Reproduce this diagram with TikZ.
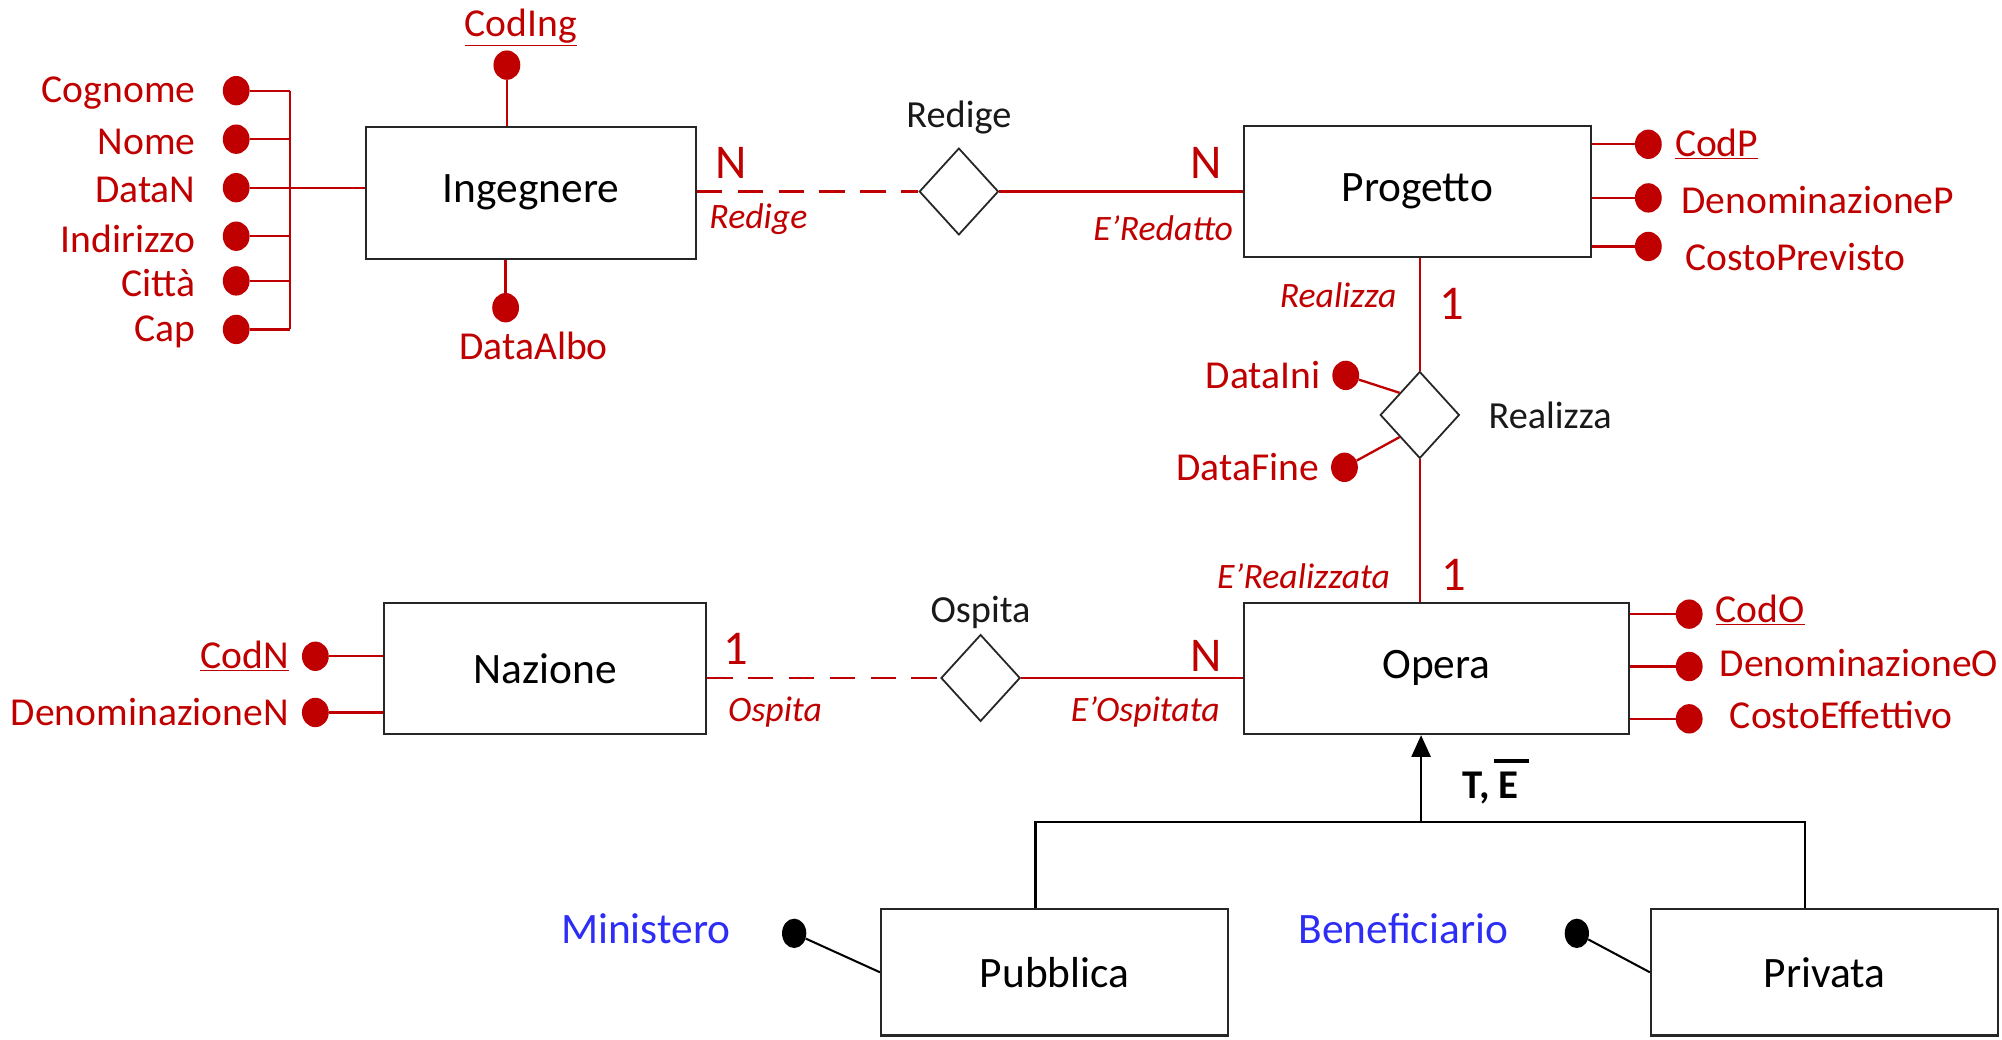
\documentclass[tikz,border=0pt]{standalone}
\usepackage{fontspec}
\setmainfont{Carlito}
\usepackage{tikz}
\usetikzlibrary{shapes.geometric,positioning,arrows.meta}
\definecolor{erred}{RGB}{192,0,0}
\definecolor{erblue}{RGB}{45,45,245}
\newcommand*\dotdiam{21pt}
\tikzset{
    entity/.style   = {draw=black!85, line width=1.6pt, minimum height=103pt,
                      inner sep=0pt, font=\fontsize{34}{40}\selectfont},
    relation/.style = {diamond, draw=black!85, line width=1.4pt,
                      minimum width=62pt, minimum height=68pt, inner sep=0pt},
    reltext/.style  = {font=\fontsize{30}{36}\selectfont, text=black!90, inner sep=2pt},
    attrdot/.style  = {ellipse, fill=erred, minimum width=\dotdiam,
                      minimum height=\dotdiam+2pt, inner sep=0pt},
    attrtext/.style = {font=\fontsize{31}{36}\selectfont, text=erred, inner sep=2pt},
    roletext/.style = {font=\itshape\fontsize{28}{32}\selectfont, text=erred, inner sep=0pt},
    cardtext/.style = {font=\fontsize{38}{44}\selectfont, text=erred, inner sep=0pt},
    attrline/.style = {draw=erred, line width=1.8pt},
    reldash/.style  = {attrline, dash pattern=on 20pt off 12pt},
    isaline/.style  = {draw=black, line width=1.6pt},
    iddot/.style    = {ellipse, fill=black, minimum width=19pt,
                      minimum height=23pt, inner sep=0pt},
    idtext/.style   = {font=\fontsize{34}{40}\selectfont, text=erblue, inner sep=2pt},
}

\begin{document}
\begin{tikzpicture}[x=1pt,y=-1pt]
    \useasboundingbox (0,0) rectangle (1568,814);

    % entities
    \node[entity, minimum width=258pt] (ing)   at (416,151)   {Ingegnere};
    \node[entity, minimum width=272pt] (prog)  at (1110,150)  {Progetto};
    \node[entity, minimum width=302pt] (opera) at (1125,523.5) {Opera};
    \node[entity, minimum width=252pt] (naz)   at (427,523.5) {Nazione};
    \node[entity, minimum width=272pt, minimum height=99pt] (pub)  at (826,761.5)  {Pubblica};
    \node[entity, minimum width=272pt, minimum height=99pt] (priv) at (1429,761.5) {Privata};

    % relationships
    \node[relation] (redige) at (751,150) {};
    \node[reltext, above=8pt of redige] {Redige};
    \node[relation] (real) at (1112,325) {};
    \node[reltext, right=20pt of real] {Realizza};
    \node[relation] (ospita) at (768,531) {};
    \node[reltext, above=2pt of ospita] {Ospita};

    % Ingegnere -- Redige -- Progetto
    \draw[reldash]  (redige.west -| ing.east) -- (redige.west);
    \draw[attrline] (redige.east) -- (redige.east -| prog.west);
    \node[cardtext] at (573,128) {N};
    \node[roletext] at (594,172) {Redige};
    \node[cardtext] at (945,128) {N};
    \node[roletext] at (911,179) {E’Redatto};

    % Progetto -- Realizza -- Opera
    \draw[attrline] (real.north) -- (real.north |- prog.south);
    \draw[attrline] (real.south) -- (real.south |- opera.north);
    \node[roletext] at (1048,231) {Realizza};
    \node[cardtext] at (1137,238) {1};
    \node[roletext] at (1021,451) {E’Realizzata};
    \node[cardtext] at (1139,450) {1};

    % Nazione -- Ospita -- Opera
    \draw[reldash]  (ospita.west -| naz.east) -- (ospita.west);
    \draw[attrline] (ospita.east) -- (ospita.east -| opera.west);
    \node[cardtext] at (576,508) {1};
    \node[roletext] at (607,558) {Ospita};
    \node[cardtext] at (945,514) {N};
    \node[roletext] at (897,558) {E’Ospitata};

    % attributes of Ingegnere
    \node[attrdot] (icod) at (397,51) {};
    \node[attrtext, above=1pt of icod, xshift=11pt] {\underline{CodIng}};
    \draw[attrline] (icod) -- (icod |- ing.north);
    \node[attrdot] (ialbo) at (396,241) {};
    \node[attrtext, below=5pt of ialbo, xshift=22pt] {DataAlbo};
    \draw[attrline] (ialbo) -- (ialbo |- ing.south);
    \coordinate (ibus) at (227,147);
    \foreach \t/\y [count=\i] in {Cognome/71, Nome/109, DataN/147,
                                  Indirizzo/185, Città/220, Cap/258} {
        \node[attrdot] (ia\i) at (185,\y) {};
        \node[attrtext, left=19pt of ia\i, yshift=-2pt] {\t};
        \draw[attrline] (ia\i) -- (ia\i -| ibus);
    }
    \draw[attrline] (ia1 -| ibus) -- (ia6 -| ibus);
    \draw[attrline] (ia3) -- (ia3 -| ing.west);

    % attributes of Progetto
    \foreach \t/\y/\s/\v [count=\i] in {\underline{CodP}/113/8pt/0pt,
                                        DenominazioneP/155/13pt/-2pt,
                                        CostoPrevisto/193/16pt/-8pt} {
        \node[attrdot] (pa\i) at (1291,\y) {};
        \node[attrtext, right=\s of pa\i, yshift=\v] {\t};
        \draw[attrline] (pa\i) -- (pa\i -| prog.east);
    }

    % attributes of Realizza
    \node[attrdot] (rini) at (1054,294) {};
    \node[attrtext, left=7pt of rini] {DataIni};
    \draw[attrline] (rini) -- (real.north west);
    \node[attrdot] (rfine) at (1053,366) {};
    \node[attrtext, left=7pt of rfine] {DataFine};
    \draw[attrline] (rfine) -- (real.south west);

    % attributes of Opera
    \foreach \t/\y/\s [count=\i] in {\underline{CodO}/481/8pt,
                                     DenominazioneO/522/11pt,
                                     CostoEffettivo/563/19pt} {
        \node[attrdot] (oa\i) at (1323,\y) {};
        \node[attrtext, right=\s of oa\i, yshift=3pt] {\t};
        \draw[attrline] (oa\i) -- (oa\i -| opera.east);
    }

    % attributes of Nazione
    \foreach \t/\y [count=\i] in {\underline{CodN}/514, DenominazioneN/558} {
        \node[attrdot] (na\i) at (247,\y) {};
        \node[attrtext, left=8pt of na\i] {\t};
        \draw[attrline] (na\i) -- (na\i -| naz.west);
    }

    % generalisation Opera -> Pubblica, Privata
    \coordinate (isa)  at (1113,644);
    \coordinate (isaL) at (811,644);
    \coordinate (isaR) at (1414,644);
    \draw[isaline, -{Triangle[length=17pt,width=15pt]}] (isa) -- (isa |- opera.south);
    \draw[isaline] (isaL |- pub.north) -- (isaL) -- (isaR) -- (isaR |- priv.north);
    \node[font=\bfseries\fontsize{32}{38}\selectfont, anchor=west] (cover) at (1142,612)
        {T, \makebox[0pt][l]{\hspace{-0.12em}\rule[0.86em]{0.85em}{0.09em}}E};

    % identifiers of the children
    \node[iddot] (mdot) at (622,731) {};
    \node[idtext, left=38pt of mdot, yshift=4pt] {Ministero};
    \draw[isaline] (mdot) -- (pub.west);
    \node[iddot] (bdot) at (1235,731) {};
    \node[idtext, left=42pt of bdot, yshift=4pt] {Beneficiario};
    \draw[isaline] (bdot) -- (priv.west);
\end{tikzpicture}
\end{document}
